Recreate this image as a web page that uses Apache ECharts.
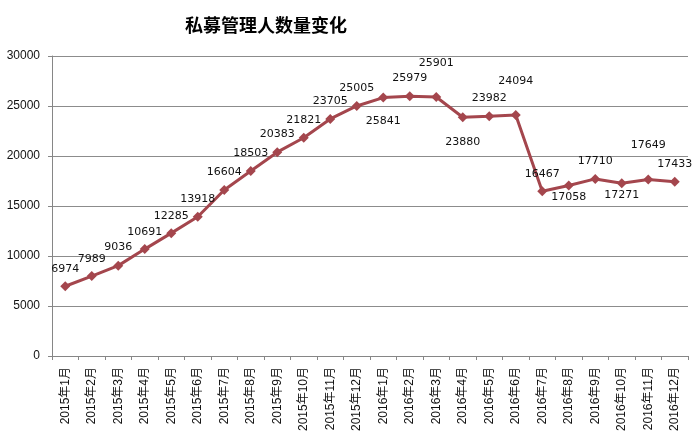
<!DOCTYPE html>
<html>
<head>
<meta charset="utf-8">
<script src="https://cdn.jsdelivr.net/npm/echarts@6/dist/echarts.min.js"></script>
<style>html,body{margin:0;padding:0;background:#fff;}#c{width:698px;height:438px;}</style>
</head>
<body>
<div id="c"></div>
<script>
const categories = ['2015年1月','2015年2月','2015年3月','2015年4月','2015年5月','2015年6月','2015年7月','2015年8月','2015年9月','2015年10月','2015年11月','2015年12月','2016年1月','2016年2月','2016年3月','2016年4月','2016年5月','2016年6月','2016年7月','2016年8月','2016年9月','2016年10月','2016年11月','2016年12月'];
const managers = [6974,7989,9036,10691,12285,13918,16604,18503,20383,21821,23705,25005,25841,25979,25901,23880,23982,24094,16467,17058,17710,17271,17649,17433];
const yTicks = [0,5000,10000,15000,20000,25000,30000];
// vertical label offsets (px) for each point's value label
const labelDy = [-17,-17,-18,-17,-17,-18,-18,-18,-18,-18,-18,-18,24,-18,-34,25,-18,-34,-17,12,-18,12,-34,-18];

const chart = echarts.init(document.getElementById('c'));
chart.setOption({
  backgroundColor: '#fff',
  animation: false,
  title: {
    text: '私募管理人数量变化',
    left: 180, top: 11,
    textStyle: { fontFamily: 'Noto Sans CJK SC', fontSize: 18, fontWeight: 'bold', color: '#000' }
  },
  grid: { left: 52, right: 10, top: 56, bottom: 82 },
  xAxis: {
    type: 'category',
    data: categories,
    boundaryGap: true,
    axisLine: { lineStyle: { color: '#868686', width: 1 } },
    axisTick: { show: true, length: 4, lineStyle: { color: '#868686' } },
    axisLabel: { rotate: 90, interval: 0, margin: 11, fontSize: 12, color: '#111', fontFamily: 'Liberation Sans, Noto Sans CJK SC' }
  },
  yAxis: {
    type: 'value',
    min: yTicks[0], max: yTicks[yTicks.length - 1], interval: yTicks[1] - yTicks[0],
    axisLine: { show: true, lineStyle: { color: '#868686', width: 1 } },
    axisTick: { show: true, length: 4, lineStyle: { color: '#868686' } },
    axisLabel: { margin: 12, fontSize: 12, color: '#111', fontFamily: 'Liberation Sans', formatter: v => String(v) },
    splitLine: { lineStyle: { color: '#8c8c8c', width: 1 } }
  },
  series: [{
    type: 'line',
    data: managers.map((v, i) => ({
      value: v,
      label: { show: true, position: 'inside', offset: [0, labelDy[i]] }
    })),
    symbol: 'diamond',
    symbolSize: 10,
    lineStyle: { color: '#A4464D', width: 3 },
    itemStyle: { color: '#A4464D' },
    label: { fontFamily: 'DejaVu Sans', fontSize: 11, color: '#111' }
  }]
});
</script>
</body>
</html>
